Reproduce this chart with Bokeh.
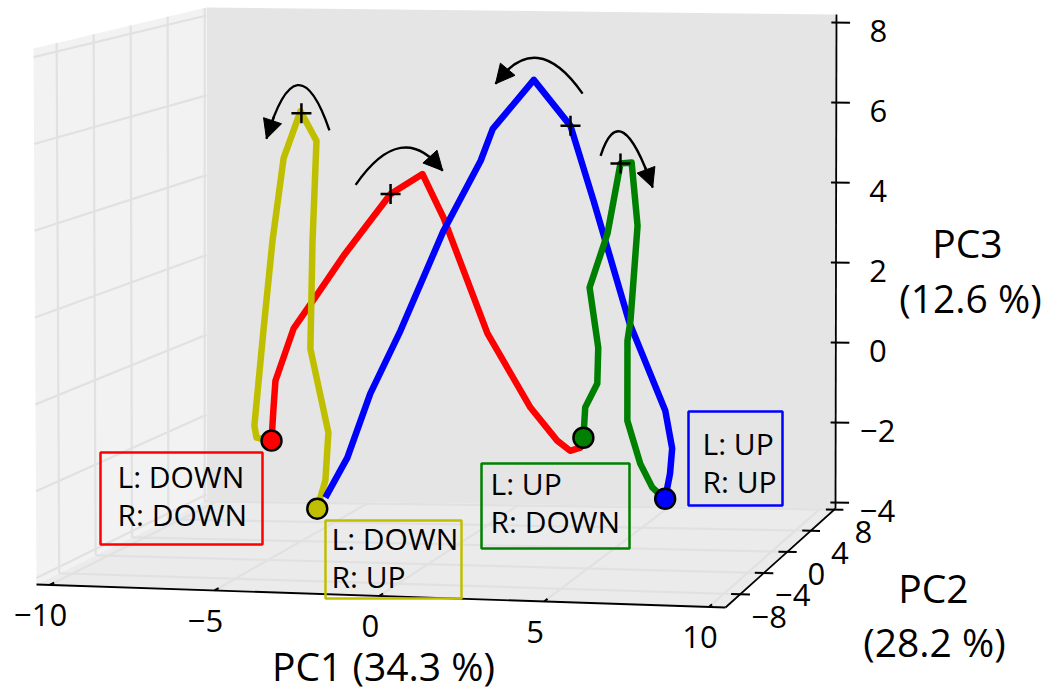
import numpy as np
from bokeh.plotting import figure
from bokeh.models import Range1d, Arrow, NormalHead
from bokeh.core.properties import value
from bokeh.embed import file_html
from bokeh.resources import INLINE

FONT = value("Open Sans")

# ---------------- data ----------------
pc1_ticks = [-10, -5, 0, 5, 10]
pc2_ticks = [-8, -4, 0, 4, 8]
pc3_ticks = [-4, -2, 0, 2, 4, 6, 8]
pc1_tick_labels = ["\u221210", "\u22125", "0", "5", "10"]
pc2_tick_labels = ["\u22128", "\u22124", "0", "4", "8"]
pc3_tick_labels = ["\u22124", "\u22122", "0", "2", "4", "6", "8"]
pc1_title = "PC1 (34.3 %)"
pc2_title = ["PC2", "(28.2 %)"]
pc3_title = ["PC3", "(12.6 %)"]

PC1_LIM = (-10.4, 10.5)
PC2_LIM = (-10.5, 8.2)
PC3_LIM = (-4.15, 8.2)

# gait trajectories: (PC1, PC3) as seen against the back wall (PC2 = max)
red_pc1 = [-8.24, -8.18, -8.11, -7.51, -6.71, -5.85, -4.29, -3.23, -2.53, -1.07, 0.36, 1.25, 1.68, 2.02, 2.12]
red_pc3 = [-2.63, -1.88, -1.13, 0.18, 1.06, 2.02, 3.58, 4.09, 3.00, 0.12, -1.72, -2.54, -2.79, -2.71, -2.53]
yellow_pc1 = [-6.72, -6.45, -6.35, -6.95, -6.88, -6.75, -7.28, -7.84, -8.21, -8.51, -8.81, -8.74, -8.41]
yellow_pc3 = [-4.32, -3.61, -2.41, -0.32, 2.38, 4.89, 5.63, 4.45, 2.37, 0.12, -2.26, -2.56, -2.61]
blue_pc1 = [4.84, 5.00, 5.07, 4.84, 3.64, 2.45, 1.68, 0.46, -0.90, -1.30, -2.53, -3.96, -4.96, -5.72, -6.45]
blue_pc3 = [-3.96, -3.33, -2.70, -1.76, 0.44, 3.47, 5.34, 6.48, 5.24, 4.44, 2.68, 0.16, -1.42, -3.03, -4.04]
green_pc1 = [2.12, 2.18, 2.58, 2.61, 2.32, 2.91, 3.34, 3.71, 3.91, 3.68, 3.58, 3.58, 4.01, 4.41, 4.74]
green_pc3 = [-2.46, -1.70, -1.10, -0.20, 1.30, 2.65, 4.41, 4.44, 2.86, 0.49, -0.02, -2.02, -3.09, -3.68, -3.91]

group_names = ["L: DOWN\nR: DOWN", "L: DOWN\nR: UP", "L: UP\nR: UP", "L: UP\nR: DOWN"]
group_colors = ["#ff0000", "#bfbf00", "#0000ff", "#008000"]
group_pc1 = [red_pc1, yellow_pc1, blue_pc1, green_pc1]
group_pc3 = [red_pc3, yellow_pc3, blue_pc3, green_pc3]

# mid-cycle "+" markers (red, yellow, blue, green)
plus_pc1 = [-4.29, -7.25, 1.68, 3.34]
plus_pc3 = [3.58, 5.58, 5.34, 4.41]

# direction arrows: start, apex, tip
arrow_start_pc1 = [-5.45, -6.32, 2.08, 2.68]
arrow_start_pc3 = [3.80, 5.16, 6.15, 4.60]
arrow_mid_pc1 = [-3.96, -7.38, 0.59, 3.44]
arrow_mid_pc3 = [4.74, 6.28, 7.03, 5.18]
arrow_end_pc1 = [-2.56, -8.41, -0.81, 4.41]
arrow_end_pc3 = [4.18, 4.93, 6.37, 3.82]

# ---------------- view (screen layout of the 3-D box) ----------------
W, H = 1048, 696
CORNERS = {
    (0, 0, 0): (36, 584), (1, 0, 0): (725, 607),
    (0, 1, 0): (206, 500), (1, 1, 0): (835, 508),
    (0, 0, 1): (33, 48), (1, 0, 1): (730, 70),
    (0, 1, 1): (206, 7), (1, 1, 1): (836, 14),
}
BASE_SHIFT = 0.41  # baseline correction, fraction of font size


def project(a, b, c):
    a, b, c = np.broadcast_arrays(np.asarray(a, float), np.asarray(b, float), np.asarray(c, float))
    u = (a - PC1_LIM[0]) / (PC1_LIM[1] - PC1_LIM[0])
    v = (b - PC2_LIM[0]) / (PC2_LIM[1] - PC2_LIM[0])
    w = (c - PC3_LIM[0]) / (PC3_LIM[1] - PC3_LIM[0])
    x = np.zeros_like(u)
    y = np.zeros_like(u)
    for (i, j, k), (cx, cy) in CORNERS.items():
        wt = (u if i else 1 - u) * (v if j else 1 - v) * (w if k else 1 - w)
        x = x + wt * cx
        y = y + wt * cy
    return x, y


p = figure(width=W, height=H, x_range=Range1d(0, W), y_range=Range1d(H, 0),
           output_backend="svg", toolbar_location=None,
           x_axis_location=None, y_axis_location=None, min_border=0)
p.outline_line_color = None
p.grid.visible = False
p.background_fill_color = "white"
p.border_fill_color = "white"

x0, x1 = PC1_LIM
y0, y1 = PC2_LIM
z0, z1 = PC3_LIM


def pane(pts, color):
    xs, ys = project([q[0] for q in pts], [q[1] for q in pts], [q[2] for q in pts])
    p.patch(list(xs), list(ys), fill_color=color, line_color=None)


pane([(x0, y1, z0), (x1, y1, z0), (x1, y1, z1), (x0, y1, z1)], "#e5e5e5")
pane([(x0, y0, z0), (x0, y1, z0), (x0, y1, z1), (x0, y0, z1)], "#f2f2f2")
pane([(x0, y0, z0), (x1, y0, z0), (x1, y1, z0), (x0, y1, z0)], "#ebebeb")


def seg(pa, pb, store_x, store_y):
    xa, ya = project(*pa)
    xb, yb = project(*pb)
    store_x.append([float(xa), float(xb)])
    store_y.append([float(ya), float(yb)])


# gridlines on the left wall and floor
gx, gy = [], []
for z in pc3_ticks:
    seg((x0, y0, z), (x0, y1, z), gx, gy)
for yv in pc2_ticks:
    seg((x0, yv, z0), (x0, yv, z1), gx, gy)
    seg((x0, yv, z0), (x1, yv, z0), gx, gy)
for xv in pc1_ticks:
    seg((xv, y0, z0), (xv, y1, z0), gx, gy)
p.multi_line(gx, gy, line_color="#e1e1e1", line_width=2.2)

# axis lines
ax, ay = [], []
seg((x0, y0, z0), (x1, y0, z0), ax, ay)
seg((x1, y0, z0), (x1, y1, z0), ax, ay)
seg((x1, y1, z0), (x1, y1, z1), ax, ay)
p.multi_line(ax, ay, line_color="black", line_width=1.8)

# ticks
tx, ty = [], []
for xv in pc1_ticks:
    seg((xv, y0, z0), (xv, y0 + 0.5, z0), tx, ty)
for yv in pc2_ticks:
    seg((x1 - 0.28, yv, z0), (x1 + 0.30, yv, z0), tx, ty)
for z in pc3_ticks:
    seg((x1 - 0.17, y1, z), (x1 + 0.45, y1, z), tx, ty)
p.multi_line(tx, ty, line_color="black", line_width=2)


def label(xs, ys, texts, size, align="center"):
    ys = [float(yv) - BASE_SHIFT * size for yv in ys]
    p.text([float(xv) for xv in xs], ys, text=texts, text_font=FONT, text_font_size=f"{size}px",
           text_align=align, text_baseline="alphabetic", text_color="black")


# tick labels
lx, ly = project(pc1_ticks, y0, z0)
label(lx - 9, ly + 43, pc1_tick_labels, 31)
lx, ly = project(x1, pc2_ticks, z0)
label(lx + 29, ly + 35, pc2_tick_labels, 31)
lx, ly = project(x1, y1, pc3_ticks)
label(lx + 42, ly + 21, pc3_tick_labels, 31)

# axis titles
label([383], [681], [pc1_title], 39)
label([933, 934], [603, 657], pc2_title, 39)
label([967, 970], [258, 313], pc3_title, 39)

# trajectories
for xs, zs, col in zip(group_pc1, group_pc3, group_colors):
    px, py = project(xs, y1, zs)
    p.line(list(px), list(py), line_color=col, line_width=6.5, line_join="round")
for xs, zs, col in zip(group_pc1, group_pc3, group_colors):
    px, py = project(xs[0], y1, zs[0])
    p.scatter([float(px)], [float(py)], size=20, fill_color=col, line_color="black", line_width=2.4)
px, py = project(plus_pc1, y1, plus_pc3)
p.scatter(list(px), list(py), marker="cross", size=20, line_color="black", line_width=2.5)

# direction arrows (quadratic arcs)
sx, sy = project(arrow_start_pc1, y1, arrow_start_pc3)
mx, my = project(arrow_mid_pc1, y1, arrow_mid_pc3)
ex, ey = project(arrow_end_pc1, y1, arrow_end_pc3)
cx = 2 * mx - (sx + ex) / 2
cy = 2 * my - (sy + ey) / 2
p.quadratic(x0=list(sx), y0=list(sy), x1=list(ex), y1=list(ey), cx=list(cx), cy=list(cy),
            line_color="black", line_width=2.4)
for i in range(len(sx)):
    t = 0.88
    bx = (1 - t) ** 2 * sx[i] + 2 * (1 - t) * t * cx[i] + t ** 2 * ex[i]
    by = (1 - t) ** 2 * sy[i] + 2 * (1 - t) * t * cy[i] + t ** 2 * ey[i]
    p.add_layout(Arrow(end=NormalHead(size=19, fill_color="black", line_color="black", line_width=1),
                       x_start=float(bx), y_start=float(by), x_end=float(ex[i]), y_end=float(ey[i]),
                       line_color="black", line_width=2.4))

# label boxes (screen layout)
box_left = [100, 325, 688, 481]
box_right = [262, 461, 782, 629]
box_top = [452, 520, 411, 463]
box_bottom = [544, 598, 505, 548]
text_x = [117, 331, 702, 490]
text_base = [488, 550, 455, 495]
p.quad(left=box_left, right=box_right, top=box_top, bottom=box_bottom,
       fill_color=None, line_color=group_colors, line_width=2.5)
for i, name in enumerate(group_names):
    l1, l2 = name.split("\n")
    label([text_x[i], text_x[i]], [text_base[i], text_base[i] + 38], [l1, l2], 30, align="left")

open("out.html", "w").write(file_html(p, INLINE))
